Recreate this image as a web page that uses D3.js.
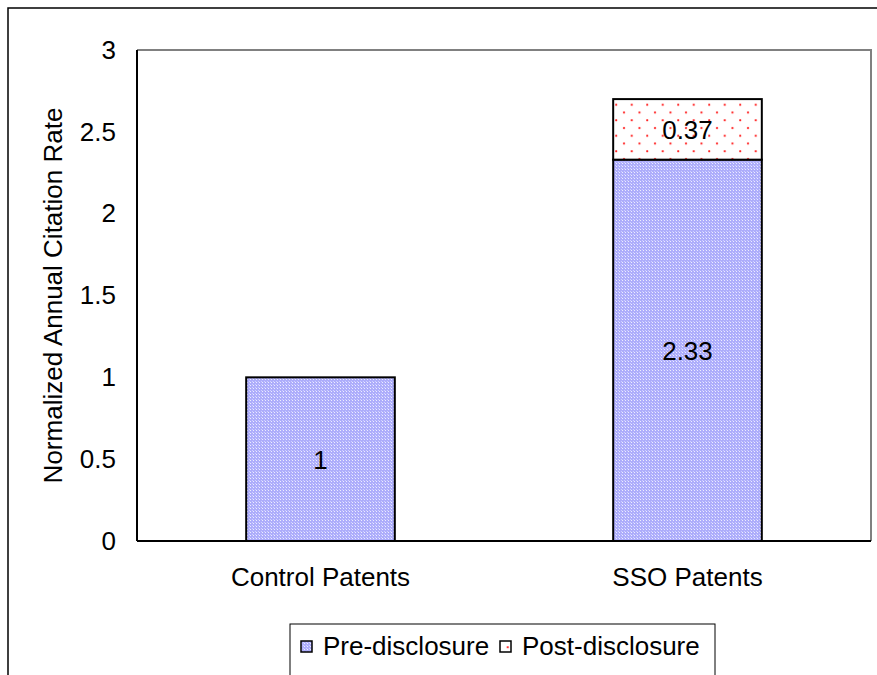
<!DOCTYPE html>
<html>
<head>
<meta charset="utf-8">
<script src="https://cdn.jsdelivr.net/npm/d3@7"></script>
<style>
  html, body { margin: 0; padding: 0; background: #fff; }
  svg { display: block; font-family: Arial, "Liberation Sans", sans-serif; }
</style>
</head>
<body>
<svg id="chart" width="877" height="675"></svg>
<script>
// Chart data
const categories = ["Control Patents", "SSO Patents"];
const preDisclosure = [1, 2.33];
const postDisclosure = [0, 0.37];
const seriesNames = ["Pre-disclosure", "Post-disclosure"];
const yTicks = [0, 0.5, 1, 1.5, 2, 2.5, 3];
const yTitle = "Normalized Annual Citation Rate";

const FONT = "Arial, 'Liberation Sans', sans-serif";
const FS = 26;

const svg = d3.select("#chart");
const W = 877, H = 675;
const plot = { left: 137, top: 50, right: 871, bottom: 541 };

// Fill patterns: blue dither for pre-disclosure, red dots for post-disclosure
const defs = svg.append("defs");
const blue = defs.append("pattern")
  .attr("id", "preFill").attr("patternUnits", "userSpaceOnUse")
  .attr("width", 3).attr("height", 3);
blue.append("rect").attr("width", 3).attr("height", 3).attr("fill", "#adadfb");
blue.append("rect").attr("x", 1).attr("y", 1).attr("width", 1).attr("height", 1).attr("fill", "#ececff");
blue.append("rect").attr("x", 0).attr("y", 0).attr("width", 1).attr("height", 1).attr("fill", "#d0d0ff");

const dots = defs.append("pattern")
  .attr("id", "postFill").attr("patternUnits", "userSpaceOnUse")
  .attr("width", 15.5).attr("height", 15.5);
dots.append("rect").attr("width", 15.5).attr("height", 15.5).attr("fill", "#ffffff");
dots.append("circle").attr("cx", 4).attr("cy", 4).attr("r", 1.1).attr("fill", "#ff2020");
dots.append("circle").attr("cx", 11.75).attr("cy", 11.75).attr("r", 1.1).attr("fill", "#ff2020");

// Outer chart border
svg.append("rect")
  .attr("x", 8).attr("y", 8).attr("width", W + 20).attr("height", H + 20)
  .attr("fill", "none").attr("stroke", "#000").attr("stroke-width", 1.5);

// Scales
const x = d3.scaleBand().domain(categories).range([plot.left, plot.right]).paddingInner(0).paddingOuter(0);
const y = d3.scaleLinear().domain([0, 3]).range([plot.bottom, plot.top]);
const barW = x.bandwidth() * 0.405;

// Plot frame (top & right in gray)
svg.append("path")
  .attr("d", `M${plot.left},${plot.top}H${plot.right}V${plot.bottom}`)
  .attr("fill", "none").attr("stroke", "#808080").attr("stroke-width", 2);

// Stacked bars with value labels
const g = svg.append("g");
categories.forEach((c, i) => {
  const cx = x(c) + x.bandwidth() / 2;
  const x0 = cx - barW / 2;
  const pre = preDisclosure[i], post = postDisclosure[i];
  g.append("rect")
    .attr("x", x0).attr("y", y(pre)).attr("width", barW).attr("height", y(0) - y(pre))
    .attr("fill", "url(#preFill)").attr("stroke", "#000").attr("stroke-width", 2);
  g.append("text")
    .attr("x", cx).attr("y", (y(0) + y(pre)) / 2).attr("dy", "0.36em")
    .attr("text-anchor", "middle").attr("font-size", FS).attr("fill", "#000")
    .text(pre);
  if (post > 0) {
    g.append("rect")
      .attr("x", x0).attr("y", y(pre + post)).attr("width", barW).attr("height", y(pre) - y(pre + post))
      .attr("fill", "url(#postFill)").attr("stroke", "#000").attr("stroke-width", 2);
    g.append("text")
      .attr("x", cx).attr("y", (y(pre) + y(pre + post)) / 2).attr("dy", "0.36em")
      .attr("text-anchor", "middle").attr("font-size", FS).attr("fill", "#000")
      .text(post);
  }
});

// Y axis
const yAxis = svg.append("g")
  .attr("transform", `translate(${plot.left},0)`)
  .call(d3.axisLeft(y).tickValues(yTicks).tickSize(0).tickPadding(21).tickFormat(d3.format("")));
yAxis.select(".domain").attr("stroke", "#000").attr("stroke-width", 2).attr("d", `M0,${plot.top}V${plot.bottom}`);
yAxis.selectAll("text").attr("font-size", FS).attr("font-family", FONT).attr("fill", "#000");

// X axis
const xAxis = svg.append("g")
  .attr("transform", `translate(0,${plot.bottom})`)
  .call(d3.axisBottom(x).tickSize(0).tickPadding(27));
xAxis.select(".domain").attr("stroke", "#000").attr("stroke-width", 2).attr("d", `M${plot.left},0H${plot.right}`);
xAxis.selectAll("text").attr("font-size", FS).attr("font-family", FONT).attr("fill", "#000");

// Y axis title
svg.append("text")
  .attr("transform", `translate(62,${(plot.top + plot.bottom) / 2}) rotate(-90)`)
  .attr("text-anchor", "middle").attr("font-size", FS).attr("fill", "#000")
  .text(yTitle);

// Legend
const legend = svg.append("g");
legend.append("rect")
  .attr("x", 290).attr("y", 624).attr("width", 425).attr("height", 80)
  .attr("fill", "#fff").attr("stroke", "#000").attr("stroke-width", 1);
const fills = ["url(#preFill)", "url(#postFill)"];
const legendX = [301, 500];
seriesNames.forEach((name, i) => {
  legend.append("rect")
    .attr("x", legendX[i]).attr("y", 641).attr("width", 11).attr("height", 11)
    .attr("fill", fills[i]).attr("stroke", "#000").attr("stroke-width", 1.5);
  legend.append("text")
    .attr("x", legendX[i] + 22).attr("y", 655)
    .attr("font-size", FS).attr("fill", "#000")
    .text(name);
});
</script>
</body>
</html>
